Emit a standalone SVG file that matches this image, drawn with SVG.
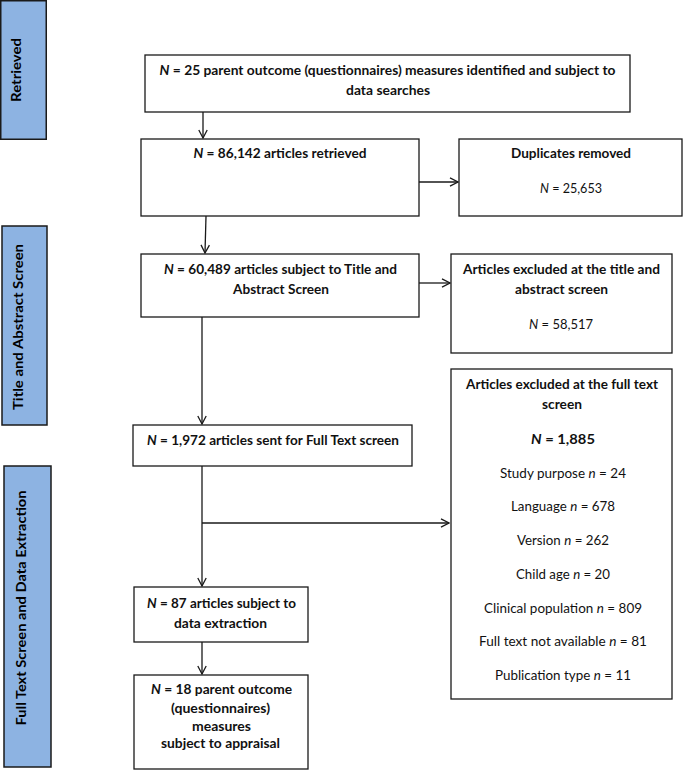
<svg xmlns="http://www.w3.org/2000/svg" width="685" height="771" viewBox="0 0 685 771">
<style>
.box{fill:#fff;stroke:#1a1a1a;stroke-width:1.3}
.side{fill:#8DB3E2;stroke:#1a1a1a;stroke-width:1.5}
.t{font-family:Lato,"Liberation Sans",sans-serif;font-size:14px;fill:#111;text-anchor:middle}
.st{font-family:Lato,"Liberation Sans",sans-serif;font-size:14px;font-weight:bold;fill:#000;text-anchor:middle}
.b{font-weight:bold}
.i{font-style:italic}
.conn{stroke:#1a1a1a;stroke-width:1.3;fill:none}
</style>
<defs>
<marker id="arr" markerWidth="10" markerHeight="10" refX="9" refY="5" orient="auto" markerUnits="userSpaceOnUse">
<path d="M1,0.8 L9,5 L1,9.2" fill="none" stroke="#1a1a1a" stroke-width="1.3"/>
</marker>
</defs>

<g id="side-retrieved">
<rect class="side" x="0.75" y="0.75" width="45.5" height="138.5"/>
<text class="st" x="20.5" y="70" transform="rotate(-90 20.5 70)" textLength="64" lengthAdjust="spacingAndGlyphs">Retrieved</text>
</g>
<g id="side-title">
<rect class="side" x="2" y="226" width="45" height="199"/>
<text class="st" x="23" y="327" transform="rotate(-90 23 327)" textLength="166" lengthAdjust="spacingAndGlyphs">Title and Abstract Screen</text>
</g>
<g id="side-fulltext">
<rect class="side" x="4" y="466" width="47" height="301"/>
<text class="st" x="25.5" y="608" transform="rotate(-90 25.5 608)" textLength="235" lengthAdjust="spacingAndGlyphs">Full Text Screen and Data Extraction</text>
</g>

<g id="connectors">
<line class="conn" x1="203" y1="112" x2="203" y2="138" marker-end="url(#arr)"/>
<line class="conn" x1="419" y1="182" x2="458" y2="182" marker-end="url(#arr)"/>
<line class="conn" x1="206" y1="216" x2="205" y2="253" marker-end="url(#arr)"/>
<line class="conn" x1="419" y1="283" x2="450" y2="283" marker-end="url(#arr)"/>
<line class="conn" x1="202" y1="317" x2="202" y2="424" marker-end="url(#arr)"/>
<line class="conn" x1="202" y1="466" x2="202" y2="586" marker-end="url(#arr)"/>
<line class="conn" x1="202" y1="523" x2="449" y2="523" marker-end="url(#arr)"/>
<line class="conn" x1="202" y1="642" x2="202" y2="674" marker-end="url(#arr)"/>
</g>

<g id="n-measures">
<rect class="box" x="145" y="55" width="485" height="57"/>
<text class="t b" x="387.5" y="74.5" textLength="456" lengthAdjust="spacingAndGlyphs"><tspan class="i">N</tspan> = 25 parent outcome (questionnaires) measures identified and subject to</text>
<text class="t b" x="388" y="94.5" textLength="84" lengthAdjust="spacingAndGlyphs">data searches</text>
</g>

<g id="n-retrieved">
<rect class="box" x="141" y="139" width="278" height="77"/>
<text class="t b" x="280" y="158" textLength="173" lengthAdjust="spacingAndGlyphs"><tspan class="i">N</tspan> = 86,142 articles retrieved</text>
</g>

<g id="n-duplicates">
<rect class="box" x="459" y="139" width="223" height="77"/>
<text class="t b" x="571" y="158" textLength="120" lengthAdjust="spacingAndGlyphs">Duplicates removed</text>
<text class="t" x="571" y="193" textLength="62" lengthAdjust="spacingAndGlyphs"><tspan class="i">N</tspan> = 25,653</text>
</g>

<g id="n-title-screen">
<rect class="box" x="141" y="254" width="278" height="63"/>
<text class="t b" x="280.5" y="274" textLength="233" lengthAdjust="spacingAndGlyphs"><tspan class="i">N</tspan> = 60,489 articles subject to Title and</text>
<text class="t b" x="281" y="294" textLength="96" lengthAdjust="spacingAndGlyphs">Abstract Screen</text>
</g>

<g id="n-title-excluded">
<rect class="box" x="451" y="254" width="221" height="99"/>
<text class="t b" x="561.5" y="274" textLength="197" lengthAdjust="spacingAndGlyphs">Articles excluded at the title and</text>
<text class="t b" x="561.5" y="294" textLength="93" lengthAdjust="spacingAndGlyphs">abstract screen</text>
<text class="t" x="561" y="329" textLength="64" lengthAdjust="spacingAndGlyphs"><tspan class="i">N</tspan> = 58,517</text>
</g>

<g id="n-fulltext-excluded">
<rect class="box" x="451" y="369" width="221" height="330"/>
<text class="t b" x="562" y="389" textLength="192" lengthAdjust="spacingAndGlyphs">Articles excluded at the full text</text>
<text class="t b" x="562" y="409" textLength="40" lengthAdjust="spacingAndGlyphs">screen</text>
<text class="t b" x="563" y="443.5" textLength="64" lengthAdjust="spacingAndGlyphs"><tspan class="i">N</tspan> = 1,885</text>
<text class="t" x="563" y="477.5" textLength="126" lengthAdjust="spacingAndGlyphs">Study purpose <tspan class="i">n</tspan> = 24</text>
<text class="t" x="563" y="511" textLength="104" lengthAdjust="spacingAndGlyphs">Language <tspan class="i">n</tspan> = 678</text>
<text class="t" x="563" y="545" textLength="92" lengthAdjust="spacingAndGlyphs">Version <tspan class="i">n</tspan> = 262</text>
<text class="t" x="563" y="579" textLength="94" lengthAdjust="spacingAndGlyphs">Child age <tspan class="i">n</tspan> = 20</text>
<text class="t" x="563" y="612.5" textLength="158" lengthAdjust="spacingAndGlyphs">Clinical population <tspan class="i">n</tspan> = 809</text>
<text class="t" x="563" y="646" textLength="168" lengthAdjust="spacingAndGlyphs">Full text not available <tspan class="i">n</tspan> = 81</text>
<text class="t" x="563" y="680" textLength="136" lengthAdjust="spacingAndGlyphs">Publication type <tspan class="i">n</tspan> = 11</text>
</g>

<g id="n-fulltext">
<rect class="box" x="133" y="425" width="279" height="41"/>
<text class="t b" x="273" y="444.5" textLength="252" lengthAdjust="spacingAndGlyphs"><tspan class="i">N</tspan> = 1,972 articles sent for Full Text screen</text>
</g>

<g id="n-extraction">
<rect class="box" x="134" y="587" width="174" height="55"/>
<text class="t b" x="221.5" y="607.5" textLength="149" lengthAdjust="spacingAndGlyphs"><tspan class="i">N</tspan> = 87 articles subject to</text>
<text class="t b" x="220.5" y="627.5" textLength="93" lengthAdjust="spacingAndGlyphs">data extraction</text>
</g>

<g id="n-appraisal">
<rect class="box" x="134" y="675" width="174" height="94"/>
<text class="t b" x="221.5" y="693.5" textLength="141" lengthAdjust="spacingAndGlyphs"><tspan class="i">N</tspan> = 18 parent outcome</text>
<text class="t b" x="220.5" y="712.5" textLength="99" lengthAdjust="spacingAndGlyphs">(questionnaires)</text>
<text class="t b" x="221.5" y="730.5" textLength="59" lengthAdjust="spacingAndGlyphs">measures</text>
<text class="t b" x="220.5" y="747.5" textLength="119" lengthAdjust="spacingAndGlyphs">subject to appraisal</text>
</g>
</svg>
